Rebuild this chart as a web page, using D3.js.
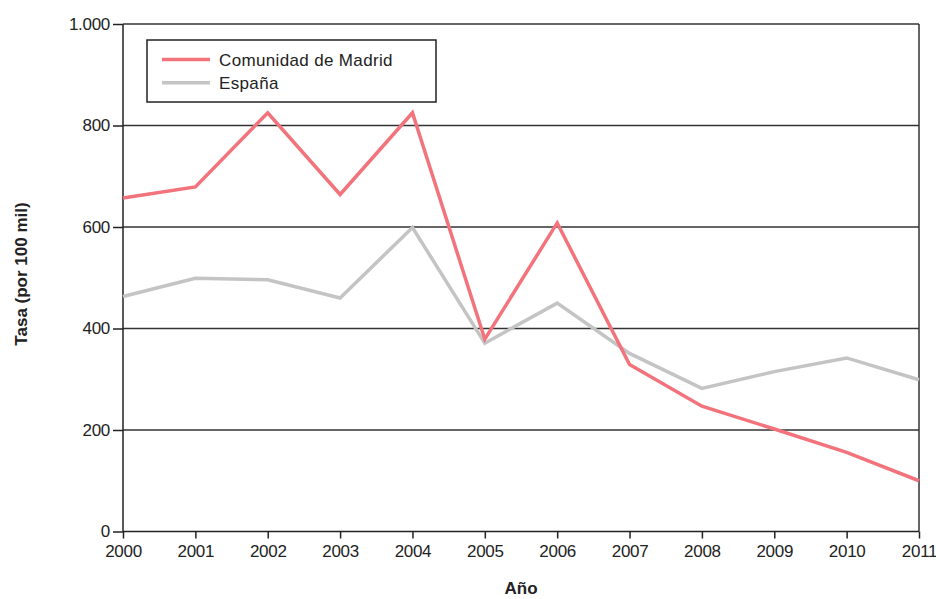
<!DOCTYPE html>
<html><head><meta charset="utf-8">
<script src="https://cdn.jsdelivr.net/npm/d3@7/dist/d3.min.js"></script>
<style>body{margin:0;background:#fff}svg{display:block}</style>
</head><body><svg id="c" width="936" height="599"></svg>
<script>
const years = [2000,2001,2002,2003,2004,2005,2006,2007,2008,2009,2010,2011];
const madrid = [657,679,825,664,825,379,608,329,247,202,156,100];
const espana = [463,499,496,460,599,371,450,351,282,315,342,299];
const seriesNames = ["Comunidad de Madrid","España"];
const seriesColors = ["#f2737b","#c4c4c4"];
const yTicks = [0,200,400,600,800,1000];
const yTickLabels = ["0","200","400","600","800","1.000"];

const svg = d3.select("#c");
const L=123, R=919, T=24, B=531.5;
const x = d3.scaleLinear().domain([2000,2011]).range([L,R]);
const y = d3.scaleLinear().domain([0,1000]).range([B,T]);
const font = "'Liberation Sans', Arial, sans-serif";

// gridlines
svg.append("g").selectAll("line").data(yTicks.filter(d=>d>0)).join("line")
  .attr("x1",L).attr("x2",R).attr("y1",d=>y(d)).attr("y2",d=>y(d))
  .attr("stroke","#333").attr("stroke-width",1.5);
// right border
svg.append("line").attr("x1",R).attr("x2",R).attr("y1",T).attr("y2",B).attr("stroke","#333").attr("stroke-width",1.5);

// y axis
const ya = svg.append("g").attr("transform",`translate(${L},0)`)
  .call(d3.axisLeft(y).tickValues(yTicks).tickFormat((d,i)=>yTickLabels[i]).tickSize(10).tickPadding(3));
ya.select(".domain").attr("stroke","#222").attr("stroke-width",1.5).attr("d",`M0,${T}V${B}`);
ya.selectAll(".tick line").attr("stroke","#222").attr("stroke-width",1.5);
ya.selectAll("text").attr("font-family",font).attr("font-size",17).attr("fill","#222").attr("letter-spacing","-0.3");

// x axis
const xa = svg.append("g").attr("transform",`translate(0,${B})`)
  .call(d3.axisBottom(x).tickValues(years).tickFormat(d3.format("d")).tickSize(7).tickPadding(6));
xa.select(".domain").attr("stroke","#222").attr("stroke-width",1.5).attr("d",`M${L},0H${R}`);
xa.selectAll(".tick line").attr("stroke","#222").attr("stroke-width",1.5);
xa.selectAll("text").attr("font-family",font).attr("font-size",17).attr("fill","#222").attr("letter-spacing","-0.3");

// lines
const line = d3.line().x((d,i)=>x(years[i])).y(d=>y(d));
[madrid, espana].slice().reverse().forEach((s,j)=>{
  const k = 1-j;
  svg.append("path").attr("d",line(s)).attr("fill","none")
    .attr("stroke",seriesColors[k]).attr("stroke-width",3.5).attr("stroke-linejoin","miter");
});

// legend
const lg = svg.append("g");
lg.append("rect").attr("x",147).attr("y",40).attr("width",289).attr("height",62)
  .attr("fill","#fff").attr("stroke","#222").attr("stroke-width",1.5);
seriesNames.forEach((n,i)=>{
  const yy = 59.5 + i*23.3;
  lg.append("line").attr("x1",162).attr("x2",210).attr("y1",yy).attr("y2",yy)
    .attr("stroke",seriesColors[i]).attr("stroke-width",3.5);
  lg.append("text").attr("x",219).attr("y",yy+6).text(n)
    .attr("font-family",font).attr("font-size",17).attr("letter-spacing","0.35").attr("fill","#222");
});

// axis titles
svg.append("text").attr("transform",`translate(27,274) rotate(-90)`)
  .attr("text-anchor","middle").attr("font-family",font).attr("font-weight","bold")
  .attr("font-size",17).attr("fill","#222").text("Tasa (por 100 mil)");
svg.append("text").attr("x",(L+R)/2).attr("y",594).attr("text-anchor","middle")
  .attr("font-family",font).attr("font-weight","bold").attr("font-size",17).attr("fill","#222").text("Año");
</script></body></html>
